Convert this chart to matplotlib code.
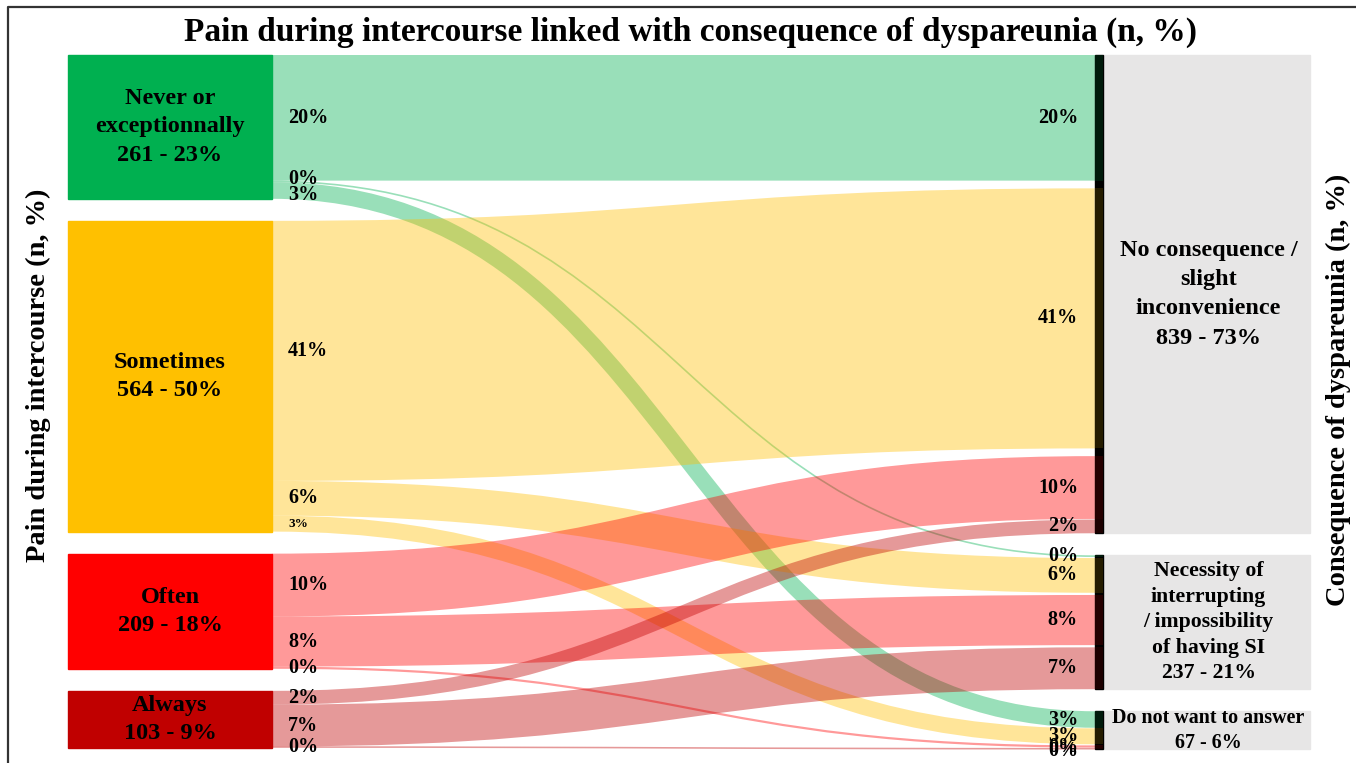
import numpy as np
import matplotlib
matplotlib.use("Agg")
import matplotlib.pyplot as plt
from matplotlib.path import Path
from matplotlib.patches import PathPatch, Rectangle
from matplotlib.lines import Line2D

# --- data ---
sources = ["Never or\nexceptionnally", "Sometimes", "Often", "Always"]
source_n = [261, 564, 209, 103]
source_pct = [23, 50, 18, 9]
targets = ["No consequence /\nslight\ninconvenience",
           "Necessity of\ninterrupting\n/ impossibility\nof having SI",
           "Do not want to answer"]
target_n = [839, 237, 67]
target_pct = [73, 21, 6]

# flow counts: rows = source, cols = target
flows = np.array([
    [228, 3, 30],
    [472, 63, 29],
    [114, 91, 4],
    [25, 76, 2],
])
flow_pct = [
    ["20%", "0%", "3%"],
    ["41%", "6%", "3%"],
    ["10%", "8%", "0%"],
    ["2%", "7%", "0%"],
]

# --- style / layout ---
node_colors = ["#00B050", "#FFC000", "#FF0000", "#C00000"]
grey = "#E7E6E6"
serif = ["Liberation Serif", "DejaVu Serif"]
W, H, DPI = 1356, 763, 100
PX = 0.551          # pixels per respondent
TOP_PX = 55
GAP = 40
right_pads = [[14, 14, 1], [2, 4, 4], [1, 2, 1]]
xL0, xL1 = 68, 272
xR0, xR1, xBox = 1095, 1103, 1310
# small nudges (in respondents) for crowded percentage labels
left_nudge = {(0, 1): -4, (0, 2): 8}
right_nudge = {(3, 2): 5}

fig = plt.figure(figsize=(W / DPI, H / DPI), dpi=DPI)
ax = fig.add_axes([0, 0, 1, 1])
ax.set_xlim(0, W)
ax.set_ylim((H - TOP_PX) / PX, -TOP_PX / PX)
ax.axis("off")

# left node positions
left_top = []
y = 0
for n in source_n:
    left_top.append(y)
    y += n + GAP

# right node positions (with padding between incoming flows)
right_top, right_h = [], []
y = 0
for j in range(len(targets)):
    h = flows[:, j].sum() + sum(right_pads[j])
    right_top.append(y)
    right_h.append(h)
    y += h + GAP

# link end positions (centre lines)
yl = np.zeros(flows.shape)
yr = np.zeros(flows.shape)
for i in range(len(sources)):
    c = left_top[i]
    for j in range(len(targets)):
        yl[i, j] = c + flows[i, j] / 2
        c += flows[i, j]
for j in range(len(targets)):
    c = right_top[j]
    for i in range(len(sources)):
        yr[i, j] = c + flows[i, j] / 2
        c += flows[i, j]
        if i < len(sources) - 1:
            c += right_pads[j][i]

px_per_unit = abs(ax.transData.transform((0, 1))[1] - ax.transData.transform((0, 0))[1])

# links as thick bezier strokes
xm = (xL1 + xR0) / 2
for i in range(len(sources)):
    for j in range(len(targets)):
        verts = [(xL1, yl[i, j]), (xm, yl[i, j]), (xm, yr[i, j]), (xR0, yr[i, j])]
        path = Path(verts, [Path.MOVETO, Path.CURVE4, Path.CURVE4, Path.CURVE4])
        lw = max(flows[i, j] * px_per_unit, 1.6) * 72 / DPI
        ax.add_patch(PathPatch(path, facecolor="none", edgecolor=node_colors[i],
                               alpha=0.4, lw=lw, capstyle="butt", zorder=2))

# left nodes
for i, name in enumerate(sources):
    ax.add_patch(Rectangle((xL0, left_top[i]), xL1 - xL0, source_n[i],
                           color=node_colors[i], zorder=3))
    ax.text((xL0 + xL1) / 2, left_top[i] + source_n[i] / 2,
            f"{name}\n{source_n[i]} - {source_pct[i]}%",
            ha="center", va="center", fontsize=17.5, fontweight="bold",
            family=serif, linespacing=1.45, zorder=4)

# right nodes: black bar + grey label box
label_fs = [17.5, 15.7, 14.4]
label_ls = [1.52, 1.37, 1.32]
for j, name in enumerate(targets):
    ax.add_patch(Rectangle((xR1, right_top[j]), xBox - xR1, right_h[j],
                           color=grey, zorder=3))
    ax.add_patch(Rectangle((xR0, right_top[j]), xR1 - xR0, right_h[j],
                           color="black", zorder=3))
    for i in range(len(sources)):
        ax.add_patch(Rectangle((xR0, yr[i, j] - flows[i, j] / 2), xR1 - xR0,
                               flows[i, j], color=node_colors[i], alpha=0.15,
                               lw=0, zorder=3.5))
    ax.text((xR1 + xBox) / 2 + 2, right_top[j] + right_h[j] / 2,
            f"{name}\n{target_n[j]} - {target_pct[j]}%",
            ha="center", va="center", fontsize=label_fs[j], fontweight="bold",
            family=serif, linespacing=label_ls[j], zorder=4)

# flow percentage labels
for i in range(len(sources)):
    for j in range(len(targets)):
        small = (i == 1 and j == 2)
        ax.text(288, yl[i, j] + left_nudge.get((i, j), 0), flow_pct[i][j],
                ha="left", va="center", fontsize=9.5 if small else 14.5,
                fontweight="bold", family=serif, zorder=5)
        ax.text(1078, yr[i, j] + right_nudge.get((i, j), 0), flow_pct[i][j],
                ha="right", va="center", fontsize=14.5, fontweight="bold",
                family=serif, zorder=5)

# title and side labels
ax.text(0.509, 1 - 32 / H,
        "Pain during intercourse linked with consequence of dyspareunia (n, %)",
        transform=ax.transAxes, ha="center", va="center", fontsize=24,
        fontweight="bold", family=serif)
ax.text(38 / W, 1 - 375 / H, "Pain during intercourse (n, %)",
        transform=ax.transAxes, rotation=90, ha="center", va="center",
        fontsize=20.5, fontweight="bold", family=serif)
ax.text(1338 / W, 1 - 390 / H, "Consequence of dyspareunia (n, %)",
        transform=ax.transAxes, rotation=90, ha="center", va="center",
        fontsize=20.5, fontweight="bold", family=serif)

# outer frame (cropped)
ax.add_line(Line2D([8 / W, 8 / W, 1.01], [-0.01, 1 - 7 / H, 1 - 7 / H],
                   transform=ax.transAxes, color="#333333", lw=1.6))

fig.savefig("out.png", dpi=DPI)
